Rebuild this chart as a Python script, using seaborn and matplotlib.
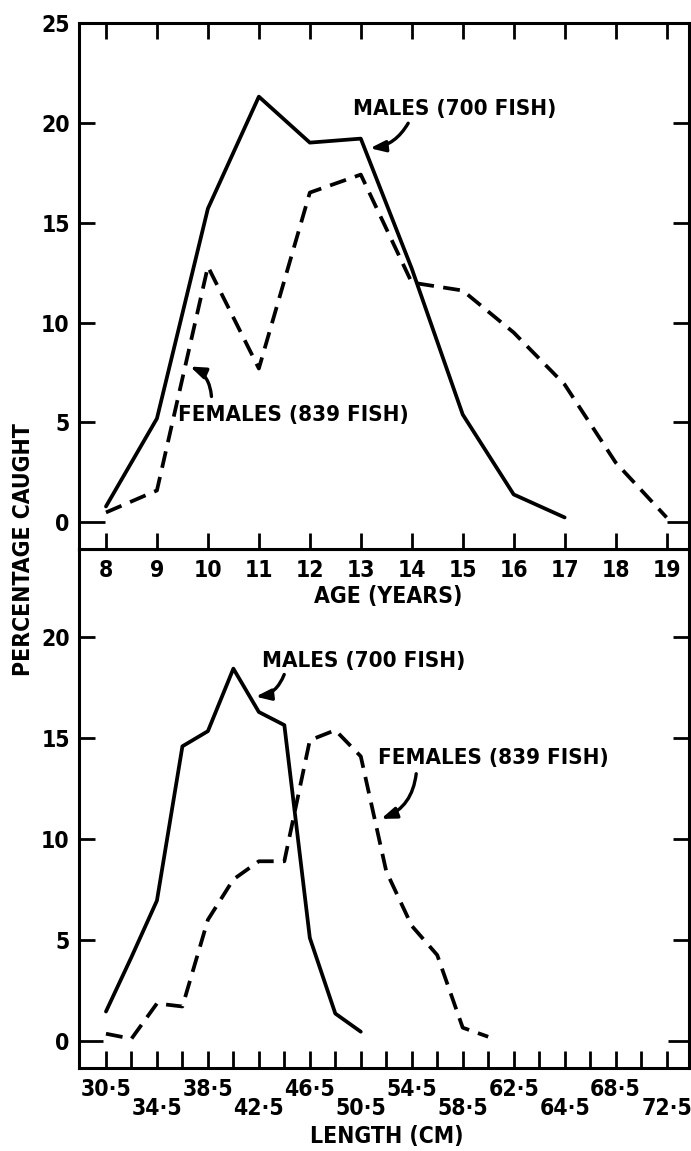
import matplotlib
matplotlib.use('Agg')
import matplotlib.pyplot as plt
import seaborn as sns

# top panel: percentage caught by age (years)
ages = [8, 9, 10, 11, 12, 13, 14, 15, 16, 17, 18, 19]
male_age_pct = [0.8, 5.2, 15.7, 21.3, 19.0, 19.2, 12.7, 5.4, 1.4, 0.25]
female_age_pct = [0.5, 1.6, 12.8, 7.7, 16.5, 17.4, 12.0, 11.6, 9.5, 6.9, 3.0, 0.25]

# bottom panel: percentage caught by length (cm)
lengths = [30.5, 32.5, 34.5, 36.5, 38.5, 40.5, 42.5, 44.5,
           46.5, 48.5, 50.5, 52.5, 54.5, 56.5, 58.5, 60.5]
male_len_pct = [1.45, 4.15, 6.95, 14.6, 15.35, 18.45, 16.3, 15.65, 5.1, 1.35, 0.45]
female_len_pct = [0.35, 0.1, 1.85, 1.7, 6.0, 8.0, 8.9, 8.9,
                  14.9, 15.4, 14.1, 8.4, 5.7, 4.25, 0.65, 0.2]

# length axis ticks (every 2 cm) and the staggered labels as printed
length_ticks = [30.5, 32.5, 34.5, 36.5, 38.5, 40.5, 42.5, 44.5, 46.5, 48.5, 50.5, 52.5,
                54.5, 56.5, 58.5, 60.5, 62.5, 64.5, 66.5, 68.5, 70.5, 72.5, 74.5]
upper_pos = [30.5, 38.5, 46.5, 54.5, 62.5, 70.5]
upper_labels = ['30·5', '38·5', '46·5', '54·5', '62·5', '68·5']
lower_pos = [34.5, 42.5, 50.5, 58.5, 66.5, 74.5]
lower_labels = ['34·5', '42·5', '50·5', '58·5', '64·5', '72·5']

sns.set_style('ticks')
plt.rcParams['font.family'] = ['DejaVu Sans']
plt.rcParams['font.weight'] = 'bold'
plt.rcParams['font.stretch'] = 'condensed'
plt.rcParams['font.size'] = 16.5
for key in ('text.color', 'axes.labelcolor', 'xtick.color', 'ytick.color', 'axes.edgecolor'):
    plt.rcParams[key] = 'black'

fig = plt.figure(figsize=(6.91, 11.51), dpi=100)
ax1 = fig.add_axes([0.115, 0.523, 0.8821, 0.4573])
ax2 = fig.add_axes([0.115, 0.0721, 0.8821, 0.4509])
ax1.set_zorder(2)

line_kw = dict(color='black', linewidth=2.7)
dashed = (0, (4.5, 2.5))
arrow_kw = dict(arrowstyle='-|>,head_length=0.6,head_width=0.22', color='black',
                lw=2.4, mutation_scale=15, shrinkA=0, shrinkB=0)

# --- age panel ---
sns.lineplot(x=ages[:len(male_age_pct)], y=male_age_pct, ax=ax1, **line_kw)
sns.lineplot(x=ages, y=female_age_pct, ax=ax1, linestyle=dashed, **line_kw)
ax1.set_xlim(7.48, 19.44)
ax1.set_ylim(-1.33, 25)
ax1.set_xticks(ages)
ax1.set_yticks([0, 5, 10, 15, 20, 25])
ax1.tick_params(axis='x', direction='in', top=True, bottom=True,
                length=11.5, width=2, pad=7)
ax1.tick_params(axis='y', direction='in', left=True, right=True,
                length=11.5, width=2, pad=7)
zero = ax1.yaxis.get_major_ticks()[0]
zero.tick1line.set_markersize(19)
zero.tick2line.set_markersize(16)

ax1.text(14.84, 20.7, 'MALES (700 FISH)', ha='center', va='center', fontsize=16)
ax1.annotate('', xy=(13.18, 18.72), xytext=(13.93, 19.97),
             arrowprops=dict(connectionstyle='arc3,rad=-0.25', **arrow_kw))
ax1.text(11.67, 5.39, 'FEMALES (839 FISH)', ha='center', va='center', fontsize=16)
ax1.annotate('', xy=(9.65, 7.8), xytext=(10.07, 6.3),
             arrowprops=dict(connectionstyle='arc3,rad=0.3', **arrow_kw))

# --- length panel ---
sns.lineplot(x=lengths[:len(male_len_pct)], y=male_len_pct, ax=ax2, **line_kw)
sns.lineplot(x=lengths, y=female_len_pct, ax=ax2, linestyle=dashed, **line_kw)
ax2.set_xlim(28.42, 76.26)
ax2.set_ylim(-1.35, 24.38)
ax2.set_yticks([0, 5, 10, 15, 20])
ax2.xaxis.remove_overlapping_locs = False
ax2.set_xticks(length_ticks)
ax2.set_xticklabels([upper_labels[upper_pos.index(t)] if t in upper_pos else ''
                     for t in length_ticks])
ax2.set_xticks(lower_pos, minor=True)
ax2.set_xticklabels(lower_labels, minor=True)
ax2.tick_params(axis='x', which='major', direction='in', bottom=True, top=False,
                length=12, width=2, pad=7)
ax2.tick_params(axis='x', which='minor', direction='in', length=0, pad=21)
ax2.tick_params(axis='y', direction='in', left=True, right=True,
                length=11.5, width=2, pad=7)
zero = ax2.yaxis.get_major_ticks()[0]
zero.tick1line.set_markersize(17)
zero.tick2line.set_markersize(15)

ax2.text(50.7, 18.84, 'MALES (700 FISH)', ha='center', va='center', fontsize=16)
ax2.annotate('', xy=(42.24, 17.06), xytext=(44.49, 18.16),
             arrowprops=dict(connectionstyle='arc3,rad=-0.3', **arrow_kw))
ax2.text(60.93, 14.0, 'FEMALES (839 FISH)', ha='center', va='center', fontsize=16)
ax2.annotate('', xy=(52.09, 11.0), xytext=(54.85, 13.24),
             arrowprops=dict(connectionstyle='arc3,rad=-0.3', **arrow_kw))

for ax in (ax1, ax2):
    for s in ax.spines.values():
        s.set_linewidth(2.2)

fig.text(0.5615, 0.4816, 'AGE (YEARS)', ha='center', va='center')
fig.text(0.5596, 0.0125, 'LENGTH (CM)', ha='center', va='center')
fig.text(0.0337, 0.5222, 'PERCENTAGE CAUGHT', rotation=90, ha='center', va='center')

fig.savefig('out.png', dpi=100)
